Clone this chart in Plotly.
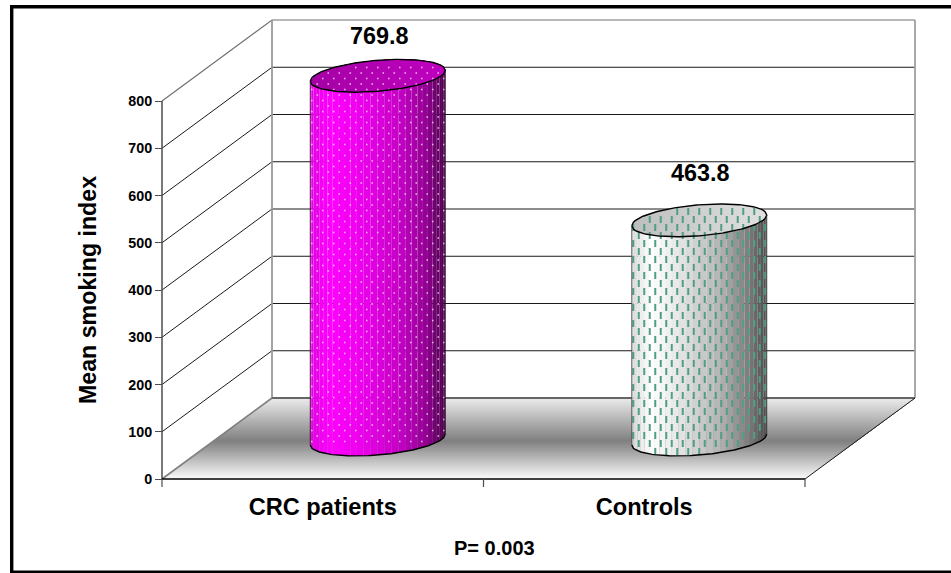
import numpy as np
import plotly.graph_objects as go

# ---- data ----
categories = ["CRC patients", "Controls"]
mean_smoking_index = [769.8, 463.8]
value_labels = ["769.8", "463.8"]
y_ticks = [0, 100, 200, 300, 400, 500, 600, 700, 800]
y_title = "Mean smoking index"
footnote = "P= 0.003"

# ---- geometry of the figure (pixels) ----
W, H = 951, 573
X0_PX, Y0_PX = 162, 479          # front-left corner of the floor
CAT_PX = 321.5                   # pixels per category
VAL_PX = 0.4725                  # pixels per value unit
DEPTH_X, DEPTH_Y = 110, 81       # depth offset of back wall
BAR_RX, BAR_RY, SHEAR = 67.5, 15.5, 0.08

def dx(px):
    return px / CAT_PX

def dy(px):
    return px / VAL_PX

x_range = [-0.5 - dx(X0_PX), -0.5 - dx(X0_PX) + dx(W)]
y_range = [-dy(H - Y0_PX), dy(Y0_PX)]
X_L, X_R = -0.5, len(categories) - 0.5
V_MAX = y_ticks[-1]

fig = go.Figure()

def poly(xs, ys, color):
    fig.add_trace(go.Scatter(x=xs, y=ys, mode="lines", fill="toself", fillcolor=color,
                             line=dict(width=0, color=color), hoverinfo="skip", showlegend=False))

def line(xs, ys, color, width=1.0):
    fig.add_trace(go.Scatter(x=xs, y=ys, mode="lines", line=dict(color=color, width=width),
                             hoverinfo="skip", showlegend=False))

# ---- floor gradient (painted front to back, each strip covers the remainder) ----
n_floor = 60
ds = np.linspace(0, 1, n_floor + 1)
for a, b in zip(ds[:-1], ds[1:]):
    m = (a + b) / 2
    g = int(np.interp(m, [0, 0.47, 1], [252, 128, 236]))
    c = f"rgb({g},{g},{g})"
    poly([X_L + dx(DEPTH_X) * a, X_R + dx(DEPTH_X) * a, X_R + dx(DEPTH_X), X_L + dx(DEPTH_X)],
         [dy(DEPTH_Y) * a, dy(DEPTH_Y) * a, dy(DEPTH_Y), dy(DEPTH_Y)], c)

# ---- walls ----
bx_l, bx_r, by = X_L + dx(DEPTH_X), X_R + dx(DEPTH_X), dy(DEPTH_Y)
for t in y_ticks[1:]:
    col = "#707070" if t == V_MAX else "#1a1a1a"
    line([X_L, bx_l, bx_r], [t, t + by, t + by], col, 1.2 if t == V_MAX else 1.0)
line([bx_l, bx_l], [by, V_MAX + by], "#999999", 1.8)
line([bx_r, bx_r], [by, V_MAX + by], "#a0a0a0", 1.8)
line([bx_l, bx_r], [by, by], "#666666", 1.8)
line([X_L, bx_l], [0, by], "#808080", 1.6)
line([X_R, bx_r], [0, by], "#1a1a1a", 1.0)
line([X_L, X_L], [0, V_MAX], "#4d4d4d", 1.5)
line([X_L, X_R], [0, 0], "#000000", 1.5)

# x tick marks between categories
xt_x, xt_y = [], []
for i in range(len(categories) + 1):
    xt_x += [i - 0.5, i - 0.5, None]
    xt_y += [0, -dy(8), None]
line(xt_x, xt_y, "#4d4d4d", 1.2)

# ---- cylinders ----
body_x = [-1, -0.72, -0.3, 0.3, 0.7, 1]
styles = [
    dict(r=[225, 255, 240, 200, 150, 75], g=[0, 0, 0, 0, 0, 0], b=[225, 255, 240, 200, 150, 75],
         top_l=(165, 0, 165), top_r=(192, 0, 192), mark="dot"),
    dict(r=[215, 255, 230, 180, 130, 75], g=[215, 255, 230, 180, 130, 75], b=[215, 255, 230, 180, 130, 75],
         top_l=(190, 190, 190), top_r=(225, 225, 225), mark="dash"),
]
n_strips = 30

for i, (v, st) in enumerate(zip(mean_smoking_index, styles)):
    cx = i + dx(DEPTH_X / 2)
    base = dy(DEPTH_Y / 2 - 1)
    top = v + base
    rx = dx(BAR_RX)

    def arc(x, cy, sign):
        u = np.clip((x - cx) / rx, -1, 1)
        return cy + dy(SHEAR * BAR_RX) * u + sign * dy(BAR_RY) * np.sqrt(1 - u * u)

    # body strips (narrower towards the silhouette)
    th = np.linspace(-np.pi / 2, np.pi / 2, n_strips + 1)
    xs = cx + rx * np.sin(th)
    for a, b in zip(xs[:-1], xs[1:]):
        fine = np.linspace(a, b, 4)
        u = ((a + b) / 2 - cx) / rx
        c = "rgb({},{},{})".format(*[int(np.interp(u, body_x, st[k])) for k in "rgb"])
        poly(list(fine) + [b, a], list(arc(fine, base, -1)) + [float(arc(b, top, -1)), float(arc(a, top, -1))], c)

    # top face (painted left to right, each strip covers the remainder)
    n_top = 24
    for j in range(n_top):
        a = cx - rx + 2 * rx * j / n_top
        fine = np.linspace(a, cx + rx, 40)
        f = (j + 0.5) / n_top
        c = "rgb({},{},{})".format(*[int(l + (r - l) * f) for l, r in zip(st["top_l"], st["top_r"])])
        poly(list(fine) + list(fine[::-1]), list(arc(fine, top, 1)) + list(arc(fine[::-1], top, -1)), c)

    # texture
    per_x, per_y = (11, 11) if st["mark"] == "dot" else (11, 16)
    px_, py_ = [], []
    for r_ in range(-4, 120):
        yy = base + dy(20) + r_ * dy(per_y / 2)
        off = (r_ % 2) * per_x / 2
        for c_ in range(-8, 8):
            xx = cx + dx(c_ * per_x + off)
            if abs(xx - cx) >= rx * 0.985:
                continue
            if arc(xx, base, -1) + dy(3) < yy < arc(xx, top, 1) - dy(3):
                px_.append(xx)
                py_.append(yy)
    if st["mark"] == "dot":
        marker = dict(symbol="square", size=1.6, color="rgba(255,225,255,0.75)", line=dict(width=0))
    else:
        marker = dict(symbol="line-ns", size=5, color="#4f9f80", line=dict(width=2, color="#4f9f80"))
    fig.add_trace(go.Scatter(x=px_, y=py_, mode="markers", marker=marker, hoverinfo="skip", showlegend=False))

    # outlines
    fine = np.linspace(cx - rx, cx + rx, 80)
    line(list(fine) + list(fine[::-1]), list(arc(fine, top, 1)) + list(arc(fine[::-1], top, -1)), "#000000", 1.4)
    line(list(fine), list(arc(fine, base, -1)), "#000000", 1.4)
    line([cx - rx, cx - rx], [float(arc(cx - rx, base, -1)), float(arc(cx - rx, top, -1))], "#3a003a" if i == 0 else "#404040", 0.8)
    line([cx + rx, cx + rx], [float(arc(cx + rx, base, -1)), float(arc(cx + rx, top, -1))], "#200020" if i == 0 else "#303030", 0.8)

# ---- value labels ----
label_rise = [40, 47]
annotations = []
for i, (v, txt, rise) in enumerate(zip(mean_smoking_index, value_labels, label_rise)):
    annotations.append(dict(x=i + dx(DEPTH_X / 2 + 1.5), y=v + dy(DEPTH_Y / 2 - 1) + dy(rise), text=f"<b>{txt}</b>",
                            showarrow=False, xanchor="center", yanchor="middle",
                            font=dict(family="Liberation Sans", size=23.4, color="#000000")))

annotations.append(dict(xref="paper", yref="paper", x=88 / W, y=1 - 290 / H, text=f"<b>{y_title}</b>", textangle=-90,
                        showarrow=False, xanchor="center", yanchor="middle",
                        font=dict(family="Liberation Sans", size=23.2, color="#000000")))
annotations.append(dict(xref="paper", yref="paper", x=494 / W, y=1 - 548 / H, text=f"<b>{footnote}</b>",
                        showarrow=False, xanchor="center", yanchor="middle",
                        font=dict(family="Liberation Sans", size=20, color="#000000")))

fig.update_layout(
    width=W, height=H, margin=dict(l=0, r=0, t=0, b=0),
    paper_bgcolor="white", plot_bgcolor="white", showlegend=False,
    annotations=annotations,
    shapes=[dict(type="rect", xref="paper", yref="paper",
                 x0=11.7 / W, x1=1.02, y0=1 - 6.8 / H, y1=1 - 572.3 / H,
                 line=dict(color="#000000", width=3.4), fillcolor="rgba(0,0,0,0)")],
    xaxis=dict(range=x_range, domain=[0, 1], anchor="free", position=1 - Y0_PX / H,
               tickmode="array", tickvals=list(range(len(categories))), ticktext=categories,
               ticks="", ticklen=0, showgrid=False, zeroline=False, showline=False,
               ticklabelstandoff=11,
               tickfont=dict(family="Liberation Sans", size=23.6, color="#000000", weight="bold")),
    yaxis=dict(range=y_range, domain=[0, 1], anchor="free", position=X0_PX / W,
               tickmode="array", tickvals=y_ticks, ticks="outside", ticklen=7, tickwidth=1.4,
               tickcolor="#4d4d4d", showgrid=False, zeroline=False, showline=False,
               tickfont=dict(family="Liberation Sans", size=14.3, color="#000000", weight="bold")),
)

fig.write_html("out.html", config=dict(displayModeBar=False),
               post_script="document.body.style.margin='0';document.body.style.overflow='hidden';")
